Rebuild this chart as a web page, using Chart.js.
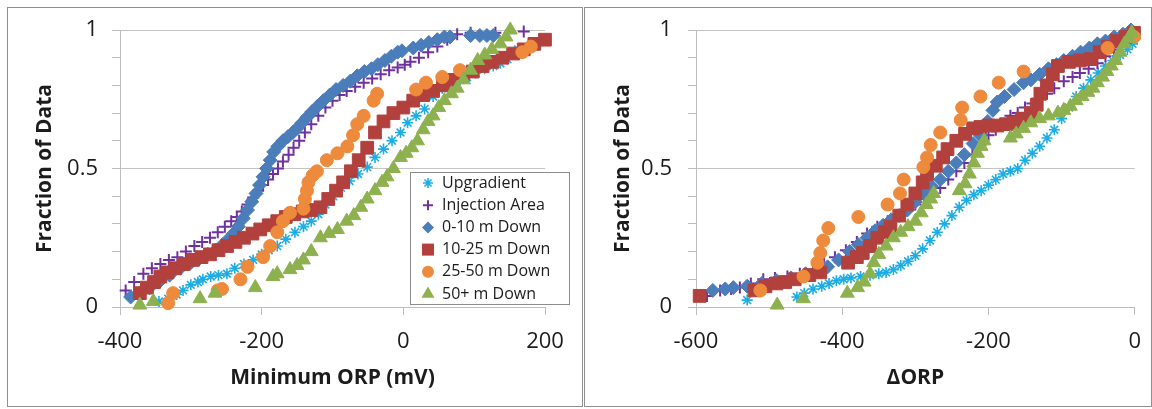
<!DOCTYPE html>
<html><head><meta charset="utf-8">
<script src="https://cdn.jsdelivr.net/npm/chart.js@4.4.1/dist/chart.umd.min.js"></script>
<style>
html,body{margin:0;padding:0;background:#fff;width:1152px;height:409px;overflow:hidden}
.panel{position:absolute;top:7px;height:398px;border:1px solid #8f8f8f;background:#fff}
#p1{left:7px;width:574px}
#p2{left:584px;width:566px}
canvas{display:block}
</style></head>
<body>
<div class="panel" id="p1"><canvas id="c1" width="574" height="398"></canvas></div>
<div class="panel" id="p2"><canvas id="c2" width="570" height="398"></canvas></div>
<script>
// ---------- DATA ----------
const seriesNames = ['Upgradient','Injection Area','0-10 m Down','10-25 m Down','25-50 m Down','50+ m Down'];
const yTickValues = [0,0.1,0.2,0.3,0.4,0.5,0.6,0.7,0.8,0.9,1];
const yTickLabeled = [0,0.5,1];
const leftXTicks = [-400,-200,0,200];
const rightXTicks = [-600,-400,-200,0];
const leftXTitle = 'Minimum ORP (mV)';
const rightXTitle = '\u0394ORP';
const yTitle = 'Fraction of Data';

// Left panel: Minimum ORP (mV)
const lUpX = [-345,-332,-320,-311,-300,-290,-283,-272,-261,-249,-238,-225,-212,-200,-190,-178,-166,-153,-141,-130,-120,-110,-99,-88,-76,-64,-51,-40,-28,-16,-4,6,18,30,42,55,68,80,90,102,115,127,137,147,155,162];
const lUpY = [0.02,0.03,0.045,0.06,0.08,0.09,0.10,0.11,0.115,0.12,0.14,0.155,0.17,0.19,0.205,0.22,0.245,0.27,0.29,0.31,0.335,0.37,0.40,0.43,0.455,0.48,0.505,0.54,0.57,0.60,0.63,0.665,0.69,0.715,0.76,0.79,0.805,0.82,0.83,0.845,0.86,0.87,0.88,0.895,0.915,0.93];
const lInX = [-392,-380,-367,-355,-343,-331,-319,-307,-295,-284,-273,-262,-252,-243,-235,-228,-220,-212,-205,-198,-191,-184,-177,-170,-162,-155,-147,-139,-130,-120,-110,-100,-90,-80,-68,-56,-44,-32,-20,-8,2,10,22,35,48,62,76,95,130,170];
const lInY = [0.06,0.09,0.12,0.14,0.155,0.17,0.18,0.20,0.22,0.235,0.25,0.27,0.29,0.31,0.325,0.345,0.37,0.395,0.42,0.44,0.46,0.48,0.50,0.525,0.55,0.575,0.60,0.63,0.66,0.69,0.72,0.745,0.765,0.78,0.795,0.81,0.825,0.84,0.855,0.865,0.875,0.885,0.90,0.92,0.94,0.965,0.985,0.99,0.99,0.995];
const lD0X = [-385,-372,-358,-345,-330,-315,-300,-288,-276,-265,-255,-247,-240,-233,-226,-220,-214,-208,-203,-198,-193,-188,-183,-177,-170,-163,-156,-150,-143,-136,-129,-121,-113,-104,-95,-85,-75,-65,-55,-45,-36,-26,-17,-8,-2,14,25,36,48,58,66,95,108,118,127];
const lD0Y = [0.036,0.05,0.07,0.09,0.115,0.14,0.16,0.175,0.19,0.205,0.225,0.245,0.265,0.29,0.32,0.35,0.38,0.41,0.44,0.47,0.50,0.53,0.56,0.58,0.60,0.615,0.63,0.645,0.665,0.685,0.705,0.725,0.745,0.765,0.785,0.80,0.815,0.835,0.85,0.86,0.875,0.89,0.905,0.92,0.925,0.935,0.945,0.955,0.965,0.975,0.975,0.98,0.98,0.98,0.98];
const lD10X = [-372,-362,-352,-343,-333,-322,-310,-297,-285,-273,-261,-249,-237,-225,-213,-202,-190,-178,-166,-154,-142,-130,-117,-106,-95,-85,-74,-63,-51,-40,-28,-14,0,14,28,42,56,70,84,98,112,126,140,155,170,185,200];
const lD10Y = [0.05,0.07,0.09,0.11,0.125,0.14,0.155,0.17,0.18,0.19,0.205,0.22,0.235,0.25,0.265,0.28,0.295,0.31,0.325,0.335,0.345,0.35,0.36,0.39,0.42,0.45,0.49,0.53,0.575,0.63,0.67,0.70,0.72,0.745,0.765,0.78,0.80,0.82,0.835,0.85,0.87,0.885,0.90,0.915,0.93,0.95,0.965];
const lD25X = [-332,-325,-262,-256,-230,-220,-198,-188,-178,-170,-160,-141,-139,-136,-134,-128,-122,-108,-93,-79,-71,-65,-56,-42,-37,18,32,55,80,168,180];
const lD25Y = [0.014,0.05,0.06,0.065,0.10,0.145,0.18,0.22,0.27,0.31,0.34,0.355,0.39,0.42,0.45,0.475,0.49,0.53,0.555,0.58,0.62,0.66,0.69,0.745,0.77,0.785,0.81,0.83,0.855,0.92,0.94];
const lD50X = [-372,-353,-287,-266,-209,-184,-178,-160,-150,-141,-130,-117,-105,-93,-80,-70,-60,-51,-40,-30,-23,-14,-4,4,12,20,28,35,42,50,58,68,76,85,95,105,115,125,137,145,151];
const lD50Y = [0.007,0.02,0.03,0.05,0.07,0.11,0.12,0.135,0.15,0.17,0.2,0.25,0.265,0.28,0.31,0.33,0.36,0.39,0.42,0.45,0.47,0.50,0.54,0.555,0.575,0.60,0.64,0.67,0.69,0.72,0.745,0.77,0.79,0.82,0.855,0.89,0.91,0.93,0.95,0.975,1.0];

// Right panel: delta ORP
const rUpX = [-530,-462,-452,-440,-428,-418,-408,-398,-388,-375,-362,-350,-340,-330,-320,-310,-300,-290,-280,-270,-260,-250,-240,-230,-220,-210,-200,-190,-180,-170,-160,-150,-140,-130,-120,-110,-100,-90,-80,-70,-60,-50,-40,-30,-20,-10,-3];
const rUpY = [0.025,0.036,0.05,0.065,0.075,0.085,0.095,0.10,0.105,0.11,0.115,0.12,0.125,0.135,0.15,0.165,0.185,0.21,0.24,0.27,0.30,0.33,0.36,0.385,0.405,0.42,0.44,0.46,0.48,0.49,0.50,0.53,0.555,0.58,0.61,0.64,0.68,0.72,0.76,0.79,0.82,0.845,0.87,0.89,0.91,0.93,0.95];
const rInX = [-585,-567,-552,-540,-525,-508,-492,-475,-458,-440,-425,-410,-395,-380,-366,-352,-338,-325,-312,-300,-288,-276,-266,-255,-244,-233,-222,-211,-200,-190,-180,-170,-160,-150,-140,-130,-120,-110,-97,-85,-75,-63,-51,-40,-28,-15,-5];
const rInY = [0.04,0.06,0.065,0.07,0.085,0.10,0.105,0.11,0.12,0.135,0.155,0.18,0.205,0.235,0.265,0.29,0.31,0.33,0.35,0.37,0.39,0.41,0.43,0.46,0.49,0.52,0.55,0.585,0.62,0.64,0.66,0.69,0.70,0.72,0.735,0.75,0.77,0.79,0.815,0.83,0.845,0.86,0.88,0.905,0.93,0.96,0.98];
const rD0X = [-577,-560,-549,-530,-510,-490,-470,-450,-435,-420,-405,-390,-378,-366,-355,-344,-333,-322,-311,-300,-289,-278,-266,-255,-244,-233,-221,-211,-201,-194,-188,-178,-165,-152,-142,-130,-118,-107,-97,-85,-74,-62,-51,-40,-28,-16,-5];
const rD0Y = [0.06,0.065,0.07,0.075,0.085,0.095,0.105,0.12,0.13,0.145,0.17,0.20,0.225,0.25,0.275,0.295,0.315,0.33,0.35,0.38,0.41,0.435,0.46,0.49,0.52,0.55,0.59,0.62,0.67,0.71,0.74,0.76,0.785,0.81,0.82,0.84,0.86,0.875,0.89,0.905,0.92,0.935,0.95,0.96,0.975,0.985,1.0];
const rD10X = [-595,-520,-505,-490,-478,-465,-445,-430,-392,-380,-372,-362,-352,-342,-334,-322,-311,-300,-290,-284,-272,-262,-256,-244,-232,-221,-211,-200,-188,-176,-166,-154,-142,-134,-129,-120,-112,-105,-90,-75,-60,-48,-37,-25,-12,-1];
const rD10Y = [0.04,0.06,0.075,0.085,0.09,0.10,0.115,0.125,0.16,0.18,0.195,0.22,0.25,0.27,0.29,0.33,0.37,0.41,0.45,0.48,0.51,0.54,0.57,0.60,0.625,0.645,0.65,0.655,0.655,0.66,0.665,0.68,0.70,0.73,0.77,0.80,0.84,0.87,0.885,0.89,0.895,0.92,0.94,0.96,0.975,0.99];
const rD25X = [-512,-453,-434,-430,-426,-419,-378,-338,-321,-316,-289,-284,-279,-266,-238,-236,-211,-186,-152,-37,-1];
const rD25Y = [0.06,0.11,0.16,0.195,0.24,0.285,0.325,0.37,0.41,0.46,0.505,0.54,0.585,0.63,0.675,0.72,0.76,0.81,0.85,0.935,0.975];
const rD50X = [-489,-453,-393,-379,-370,-362,-357,-350,-340,-330,-320,-310,-300,-292,-285,-279,-275,-240,-232,-226,-220,-215,-210,-206,-170,-162,-152,-142,-130,-118,-105,-97,-88,-80,-72,-64,-57,-51,-44,-38,-32,-26,-20,-14,-8,-4];
const rD50Y = [0.007,0.03,0.05,0.07,0.09,0.12,0.16,0.19,0.22,0.25,0.27,0.29,0.31,0.34,0.37,0.39,0.41,0.42,0.445,0.48,0.52,0.555,0.58,0.60,0.61,0.625,0.645,0.665,0.68,0.69,0.70,0.71,0.725,0.745,0.76,0.775,0.79,0.81,0.83,0.85,0.87,0.89,0.92,0.95,0.97,0.99];

// ---------- STYLE ----------
const FONT = "'Open Sans', 'DejaVu Sans', sans-serif";
const TEXT = '#1c1c1c';
const AXIS = '#bdbdbd';
const styles = [
  {pointStyle:'star', radius:5.5, bw:1.6, color:'#1DADE5'},
  {pointStyle:'cross', radius:6, bw:2, color:'#7030A0'},
  {pointStyle:'rectRot', radius:7, bw:1, color:'#4A7DBA'},
  {pointStyle:'rect', radius:9, bw:1, color:'#B2413D'},
  {pointStyle:'circle', radius:6.5, bw:1, color:'#EE8A3C'},
  {pointStyle:'triangle', radius:8, bw:1, color:'#8DB14F'}
];

function mk(xs, ys, i){
  const s = styles[i];
  return {
    label: seriesNames[i],
    data: xs.map((x,k)=>({x:x, y:ys[k]})),
    pointStyle: s.pointStyle, pointRadius: s.radius, pointHoverRadius: s.radius,
    pointBackgroundColor: s.color, pointBorderColor: s.color, pointBorderWidth: s.bw,
    showLine: false, clip: false, order: 5 - i
  };
}

function drawMarker(ctx, s, x, y, r){
  ctx.save();
  ctx.fillStyle = s.color; ctx.strokeStyle = s.color; ctx.lineWidth = s.bw;
  ctx.beginPath();
  switch(s.pointStyle){
    case 'star':
      for (const a of [0,45,90,135]){ const t=a*Math.PI/180; ctx.moveTo(x-Math.cos(t)*r,y-Math.sin(t)*r); ctx.lineTo(x+Math.cos(t)*r,y+Math.sin(t)*r); }
      ctx.stroke(); break;
    case 'cross':
      ctx.moveTo(x-r,y); ctx.lineTo(x+r,y); ctx.moveTo(x,y-r); ctx.lineTo(x,y+r); ctx.stroke(); break;
    case 'rectRot':
      ctx.moveTo(x,y-r); ctx.lineTo(x+r,y); ctx.lineTo(x,y+r); ctx.lineTo(x-r,y); ctx.closePath(); ctx.fill(); break;
    case 'rect':
      { const h=r*Math.SQRT1_2; ctx.rect(x-h,y-h,2*h,2*h); ctx.fill(); } break;
    case 'circle':
      ctx.arc(x,y,r,0,Math.PI*2); ctx.fill(); break;
    case 'triangle':
      ctx.moveTo(x,y-r); ctx.lineTo(x+r*0.866,y+r*0.5); ctx.lineTo(x-r*0.866,y+r*0.5); ctx.closePath(); ctx.fill(); break;
  }
  ctx.restore();
}

const boxLegend = {
  id: 'boxLegend',
  afterDraw(chart, args, opts){
    if (!opts || !opts.show) return;
    const ctx = chart.ctx;
    const bx = opts.x, by = opts.y, bw = opts.w, bh = opts.h;
    ctx.save();
    ctx.fillStyle = '#fff'; ctx.fillRect(bx, by, bw, bh);
    ctx.strokeStyle = '#8c8c8c'; ctx.lineWidth = 1; ctx.strokeRect(bx+0.5, by+0.5, bw, bh);
    ctx.font = "16px " + FONT; ctx.fillStyle = TEXT; ctx.textBaseline = 'middle'; ctx.textAlign = 'left';
    const sizes = [5, 5, 6, 8.5, 6, 7.5];
    seriesNames.forEach((name, i) => {
      const yy = by + 11 + i * 22.2;
      drawMarker(ctx, styles[i], bx + 18, yy, sizes[i]);
      ctx.fillStyle = TEXT;
      ctx.fillText(name, bx + 32, yy);
    });
    ctx.restore();
  }
};

function makeConfig(datasets, xTicks, xTitle, pad, yWidth, yPad, legend){
  const yLabelLH = Math.max((22 - yPad) * 2 / 22, 0.3);
  return {
    type: 'scatter',
    data: { datasets: datasets },
    plugins: [boxLegend],
    options: {
      responsive: false, animation: false, devicePixelRatio: 1,
      layout: { padding: pad },
      plugins: { legend: {display:false}, tooltip: {enabled:false}, boxLegend: legend },
      scales: {
        x: {
          type: 'linear', min: xTicks[0], max: xTicks[xTicks.length-1],
          afterBuildTicks: s => { s.ticks = xTicks.map(v => ({value: v})); },
          ticks: { font: {family: FONT, size: 22}, color: TEXT, padding: 14, maxRotation: 0, autoSkip: false },
          grid: { color: 'rgba(0,0,0,0)', tickColor: AXIS, tickLength: 8, drawTicks: true },
          border: { color: AXIS, width: 1 },
          title: { display: true, text: xTitle, color: TEXT, font: {family: FONT, size: 21, weight: 'bold'}, padding: {top: 0, bottom: 5} },
          afterFit: s => { s.height = 89; }
        },
        y: {
          min: 0, max: 1,
          afterBuildTicks: s => { s.ticks = yTickValues.map(v => ({value: v})); },
          ticks: {
            font: {family: FONT, size: 22, lineHeight: yLabelLH}, color: TEXT, padding: yPad, autoSkip: false,
            callback: v => { const m = yTickLabeled.find(t => Math.abs(t - v) < 1e-9); return m === undefined ? '' : String(m); }
          },
          grid: {
            color: c => (c.tick && (Math.abs(c.tick.value - 0.5) < 1e-9 || Math.abs(c.tick.value - 1) < 1e-9)) ? '#c4c4c4' : 'rgba(0,0,0,0)',
            tickColor: AXIS, tickLength: 8, drawTicks: true
          },
          border: { color: AXIS, width: 1 },
          title: { display: true, text: yTitle, color: TEXT, font: {family: FONT, size: 21, weight: 'bold'}, padding: {top: 2, bottom: 0} },
          afterFit: s => { s.width = yWidth; }
        }
      }
    }
  };
}

const leftSets = [mk(lUpX,lUpY,0), mk(lInX,lInY,1), mk(lD0X,lD0Y,2), mk(lD10X,lD10Y,3), mk(lD25X,lD25Y,4), mk(lD50X,lD50Y,5)];
const rightSets = [mk(rUpX,rUpY,0), mk(rInX,rInY,1), mk(rD0X,rD0Y,2), mk(rD10X,rD10Y,3), mk(rD25X,rD25Y,4), mk(rD50X,rD50Y,5)];

new Chart(document.getElementById('c1'), makeConfig(leftSets, leftXTicks, leftXTitle, {left:22, top:22, right:37, bottom:10}, 90, 14, {show:true, x:402, y:164, w:159, h:132}));
new Chart(document.getElementById('c2'), makeConfig(rightSets, rightXTicks, rightXTitle, {left:23, top:22, right:17, bottom:10}, 88, 16, {show:false}));
</script>
</body></html>
